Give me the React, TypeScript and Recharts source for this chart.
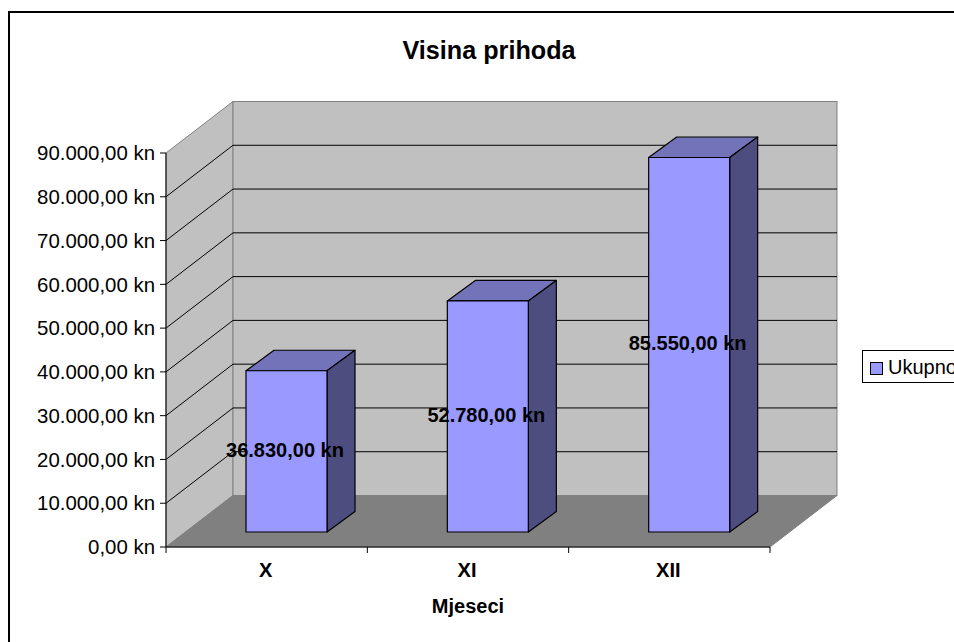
import {
  ComposedChart,
  Bar,
  XAxis,
  YAxis,
  Legend,
  LabelList,
  ReferenceArea,
  ReferenceLine,
} from 'recharts';

const months = ['X', 'XI', 'XII'];
const totals = [36830, 52780, 85550];
const valueTicks = [0, 10000, 20000, 30000, 40000, 50000, 60000, 70000, 80000, 90000];
const gridTicks = [10000, 20000, 30000, 40000, 50000, 60000, 70000, 80000];

const rows = months.map((month, i) => ({ month, total: totals[i] }));

// Excel-style fake 3D: the wall sits this far behind the axis plane, the columns
// a bit less, and they have their own shallower depth.
const WALL_DX = 67;
const WALL_DY = 51.5;
const BAR_DX = 20;
const BAR_DY = 15;
const BAR_DEPTH_X = 28;
const BAR_DEPTH_Y = 20.5;

const FONT = '"Liberation Sans", Arial, sans-serif';
const FONT_SIZE = 20;

const formatKn = (v: number) => {
  const whole = Math.round(v)
    .toString()
    .replace(/\B(?=(\d{3})+$)/g, '.');
  return `${whole},00 kn`;
};

function WallShape(props: any) {
  const { x, y, width, height } = props;
  const bottom = y + height;
  const right = x + width;
  return (
    <g>
      <polygon
        points={`${x},${y} ${x + WALL_DX},${y - WALL_DY} ${x + WALL_DX},${bottom - WALL_DY} ${x},${bottom}`}
        fill="#c0c0c0"
        stroke="#808080"
      />
      <rect x={x + WALL_DX} y={y - WALL_DY} width={width} height={height} fill="#c0c0c0" stroke="#808080" />
      <polygon
        points={`${x},${bottom} ${x + WALL_DX},${bottom - WALL_DY} ${right + WALL_DX},${bottom - WALL_DY} ${right},${bottom}`}
        fill="#808080"
        stroke="#808080"
      />
    </g>
  );
}

function GridShape(props: any) {
  const { x1, y1, x2 } = props;
  // recharts hands the line in either form depending on version
  const ax = x1 ?? props.segment?.[0]?.x;
  const ay = y1 ?? props.segment?.[0]?.y;
  const bx = x2 ?? props.segment?.[1]?.x;
  return (
    <polyline
      points={`${ax},${ay} ${ax + WALL_DX},${ay - WALL_DY} ${bx + WALL_DX},${ay - WALL_DY}`}
      fill="none"
      stroke="#000"
      strokeWidth={1}
    />
  );
}

function ColumnShape(props: any) {
  const { x, y, width, height } = props;
  const left = x + BAR_DX;
  const top = y - BAR_DY;
  const right = left + width;
  const bottom = top + height;
  return (
    <g stroke="#000" strokeWidth={1.2} strokeLinejoin="round">
      <polygon
        points={`${left},${top} ${left + BAR_DEPTH_X},${top - BAR_DEPTH_Y} ${right + BAR_DEPTH_X},${top - BAR_DEPTH_Y} ${right},${top}`}
        fill="#7373b9"
      />
      <polygon
        points={`${right},${top} ${right + BAR_DEPTH_X},${top - BAR_DEPTH_Y} ${right + BAR_DEPTH_X},${bottom - BAR_DEPTH_Y} ${right},${bottom}`}
        fill="#4d4d80"
      />
      <rect x={left} y={top} width={width} height={height} fill="#9999ff" />
    </g>
  );
}

function ValueLabel(props: any) {
  const { x, y, width, height, value } = props;
  return (
    <text
      x={x + width / 2 + BAR_DX - 1.5}
      y={y + height / 2 - BAR_DY + 5.5}
      textAnchor="middle"
      fontFamily={FONT}
      fontSize={FONT_SIZE}
      fontWeight="bold"
      fill="#000"
    >
      {formatKn(value)}
    </text>
  );
}

function MonthTick(props: any) {
  const { x, y, payload, index } = props;
  const band = 604 / months.length;
  const axisY = y - 8;
  return (
    <g>
      <line x1={x - band / 2} y1={axisY} x2={x - band / 2} y2={axisY + 6} stroke="#000" />
      {index === months.length - 1 && (
        <line x1={x + band / 2} y1={axisY} x2={x + band / 2} y2={axisY + 6} stroke="#000" />
      )}
      <text
        x={x - 1}
        y={axisY + 30}
        textAnchor="middle"
        fontFamily={FONT}
        fontSize={FONT_SIZE}
        fontWeight="bold"
        fill="#000"
      >
        {payload.value}
      </text>
    </g>
  );
}

function ChartLegend() {
  return (
    <div
      style={{
        width: 150,
        height: 33,
        boxSizing: 'border-box',
        border: '1px solid #000',
        background: '#fff',
        display: 'flex',
        alignItems: 'center',
        paddingLeft: 7,
        fontFamily: FONT,
        fontSize: FONT_SIZE,
        color: '#000',
      }}
    >
      <span
        style={{
          display: 'inline-block',
          width: 11,
          height: 11,
          border: '1px solid #000',
          background: '#9999ff',
          marginRight: 5,
          marginTop: 3,
        }}
      />
      <span style={{ marginTop: 2 }}>Ukupno</span>
    </div>
  );
}

export default function App() {
  return (
    <div style={{ position: 'fixed', left: 0, top: 0, width: 954, height: 642, overflow: 'hidden', background: '#fff' }}>
      <div
        style={{
          position: 'absolute',
          left: 8,
          top: 11,
          width: 1100,
          height: 800,
          border: '2px solid #000',
        }}
      />
      <div style={{ position: 'absolute', left: 0, top: 0 }}>
        <ComposedChart
          width={1100}
          height={700}
          data={rows}
          margin={{ top: 153, right: 180, bottom: 0, left: 0 }}
        >
          <text
            x={489}
            y={59}
            textAnchor="middle"
            fontFamily={FONT}
            fontSize={25.2}
            fontWeight="bold"
            fill="#000"
          >
            Visina prihoda
          </text>
          <ReferenceArea
            x1="X"
            x2="XII"
            y1={0}
            y2={90000}
            shape={WallShape}
            ifOverflow="visible"
            zIndex={-10}
          />
          {gridTicks.map((t) => (
            <ReferenceLine key={t} y={t} shape={GridShape} ifOverflow="visible" zIndex={-5} />
          ))}
          <XAxis
            dataKey="month"
            height={153}
            axisLine={{ stroke: '#000' }}
            tickLine={false}
            tick={MonthTick}
            interval={0}
            label={{
              value: 'Mjeseci',
              position: 'insideTop',
              offset: 52,
              fontFamily: FONT,
              fontSize: FONT_SIZE,
              fontWeight: 'bold',
              fill: '#000',
            }}
          />
          <YAxis
            domain={[0, 90000]}
            ticks={valueTicks}
            interval={0}
            width={166}
            axisLine={{ stroke: '#000' }}
            tickLine={{ stroke: '#000' }}
            tickSize={6}
            tickMargin={5}
            tickFormatter={formatKn}
            tick={{ fontFamily: FONT, fontSize: 20.4, fill: '#000' }}
          />
          <Legend
            layout="vertical"
            align="right"
            verticalAlign="top"
            content={<ChartLegend />}
            wrapperStyle={{ left: 862, top: 350, width: 150 }}
          />
          <Bar dataKey="total" name="Ukupno" barSize={81} shape={ColumnShape} isAnimationActive={false}>
            <LabelList dataKey="total" content={ValueLabel} />
          </Bar>
        </ComposedChart>
      </div>
    </div>
  );
}
